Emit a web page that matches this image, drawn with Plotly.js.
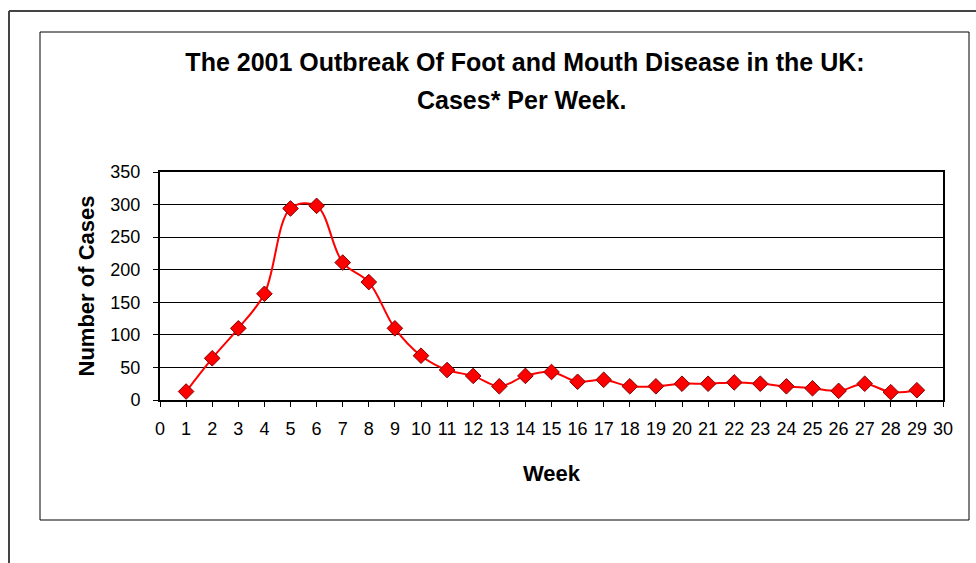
<!DOCTYPE html>
<html>
<head>
<meta charset="utf-8">
<script src="https://cdn.plot.ly/plotly-3.0.1.min.js"></script>
<style>html,body{margin:0;padding:0;background:#fff;}#chart{width:976px;height:563px;}</style>
</head>
<body>
<div id="chart"></div>
<script>
const weeks = [1,2,3,4,5,6,7,8,9,10,11,12,13,14,15,16,17,18,19,20,21,22,23,24,25,26,27,28,29];
const cases = [13,64,110,163,294,298,211,181,110,68,46,37,21,37,43,28,31,21,21,25,25,27,25,21,18,14,25,12,15];
const titleLine1 = "The 2001 Outbreak Of Foot and Mouth Disease in the UK:";
const titleLine2 = "Cases* Per Week.";
const xTitle = "Week";
const yTitle = "Number of Cases";

const W = 976, H = 563;
const L = 160, R = 943, T = 172, B = 400;
const px = x => (x - L) / (R - L);
const py = y => (B - y) / (B - T);

const font = "Liberation Sans, Arial, sans-serif";

const trace = {
  x: weeks, y: cases, type: 'scatter', mode: 'lines+markers',
  line: {color: '#ff0000', width: 2, shape: 'spline', smoothing: 1},
  marker: {symbol: 'diamond', size: 12, color: '#ff0000', line: {color: '#800000', width: 1}},
  hoverinfo: 'x+y'
};

const layout = {
  width: W, height: H,
  margin: {l: L, r: W - R, t: T, b: H - B, pad: 0},
  paper_bgcolor: '#ffffff', plot_bgcolor: '#ffffff',
  showlegend: false,
  font: {family: font, color: '#000', size: 18},
  title: {
    text: titleLine1, x: 525 / W, xanchor: 'center', xref: 'container',
    y: 1 - 62 / H, yanchor: 'middle', yref: 'container',
    font: {family: font, size: 25, weight: 'bold', color: '#000'}
  },
  annotations: [
    {text: titleLine2, xref: 'paper', yref: 'paper', x: px(521), y: py(100),
     xanchor: 'center', yanchor: 'middle', showarrow: false,
     font: {family: font, size: 25, weight: 'bold', color: '#000'}}
  ],
  xaxis: {
    range: [0, 30], tickmode: 'linear', tick0: 0, dtick: 1,
    ticks: 'outside', ticklen: 5, tickcolor: '#000', tickwidth: 1,
    ticklabelstandoff: 6,
    showline: true, linecolor: '#000', linewidth: 2, mirror: true,
    showgrid: false, zeroline: false,
    tickfont: {family: font, size: 18, color: '#000'},
    title: {text: xTitle, font: {family: font, size: 22, weight: 'bold', color: '#000'}, standoff: 28}
  },
  yaxis: {
    range: [0, 350], tickmode: 'linear', tick0: 0, dtick: 50,
    ticks: 'outside', ticklen: 5, tickcolor: '#000',
    ticklabelstandoff: 9,
    showline: true, linecolor: '#000', linewidth: 2, mirror: true,
    showgrid: true, gridcolor: '#000', gridwidth: 1, zeroline: false,
    tickfont: {family: font, size: 18, color: '#000'},
    title: {text: yTitle, font: {family: font, size: 22, weight: 'bold', color: '#000'}, standoff: 10}
  },
  shapes: [
    {type: 'line', xref: 'paper', yref: 'paper', x0: px(9), x1: px(980), y0: py(11), y1: py(11), line: {color: '#444', width: 2}},
    {type: 'line', xref: 'paper', yref: 'paper', x0: px(9), x1: px(9), y0: py(11), y1: py(570), line: {color: '#444', width: 2}},
    {type: 'rect', xref: 'paper', yref: 'paper', x0: px(40), x1: px(969), y0: py(32), y1: py(520), line: {color: '#000', width: 1}}
  ]
};

Plotly.newPlot('chart', [trace], layout, {displayModeBar: false, staticPlot: true});
</script>
</body>
</html>
